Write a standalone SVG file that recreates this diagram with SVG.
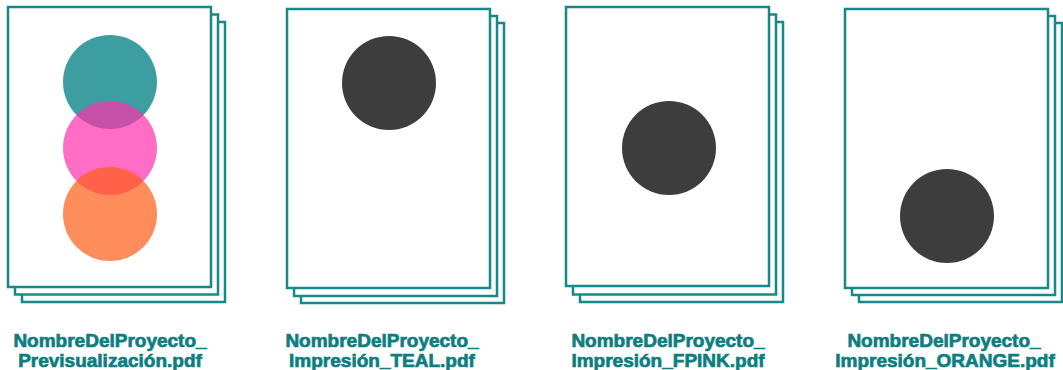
<svg xmlns="http://www.w3.org/2000/svg" width="1063" height="370" viewBox="0 0 1063 370">
<style>
.pg{fill:#ffffff;stroke:#17898a;stroke-width:2.5}
.dot{fill:#3d3d3d}
.lbl{font-family:"Liberation Sans",Arial,sans-serif;font-weight:bold;font-size:19px;fill:#0c7e80;stroke:#0c7e80;stroke-width:0.7;text-anchor:middle}
</style>
<rect width="1063" height="370" fill="#ffffff"/>
<g id="file-preview">
<rect class="pg" x="22" y="22" width="203" height="280"/>
<rect class="pg" x="15" y="14.5" width="203" height="280"/>
<rect class="pg" x="8" y="7" width="203" height="280"/>
<circle cx="110" cy="82" r="47" fill="#3d9ea2"/>
<circle cx="110" cy="148" r="47" fill="#ff30ab" fill-opacity="0.7"/>
<circle cx="110" cy="214" r="47" fill="#ff5b16" fill-opacity="0.7"/>
<text class="lbl" x="110" y="347">NombreDelProyecto_</text>
<text class="lbl" x="110" y="367">Previsualización.pdf</text>
</g>
<g id="file-teal">
<rect class="pg" x="301" y="23" width="203" height="280"/>
<rect class="pg" x="294" y="16" width="203" height="280"/>
<rect class="pg" x="287" y="9" width="203" height="279"/>
<circle class="dot" cx="389" cy="83" r="47"/>
<text class="lbl" x="382" y="347">NombreDelProyecto_</text>
<text class="lbl" x="382" y="367">Impresión_TEAL.pdf</text>
</g>
<g id="file-fpink">
<rect class="pg" x="580" y="22" width="203" height="280"/>
<rect class="pg" x="573" y="14.5" width="203" height="280"/>
<rect class="pg" x="566" y="7" width="203" height="279"/>
<circle class="dot" cx="669" cy="148" r="47"/>
<text class="lbl" x="668" y="347">NombreDelProyecto_</text>
<text class="lbl" x="668" y="367">Impresión_FPINK.pdf</text>
</g>
<g id="file-orange">
<rect class="pg" x="859" y="23" width="203" height="279"/>
<rect class="pg" x="852" y="16" width="203" height="279"/>
<rect class="pg" x="845" y="9" width="203" height="279"/>
<circle class="dot" cx="947" cy="216" r="47"/>
<text class="lbl" x="944" y="347">NombreDelProyecto_</text>
<text class="lbl" x="945" y="367">Impresión_ORANGE.pdf</text>
</g>
<g id="connectors"/>
</svg>
